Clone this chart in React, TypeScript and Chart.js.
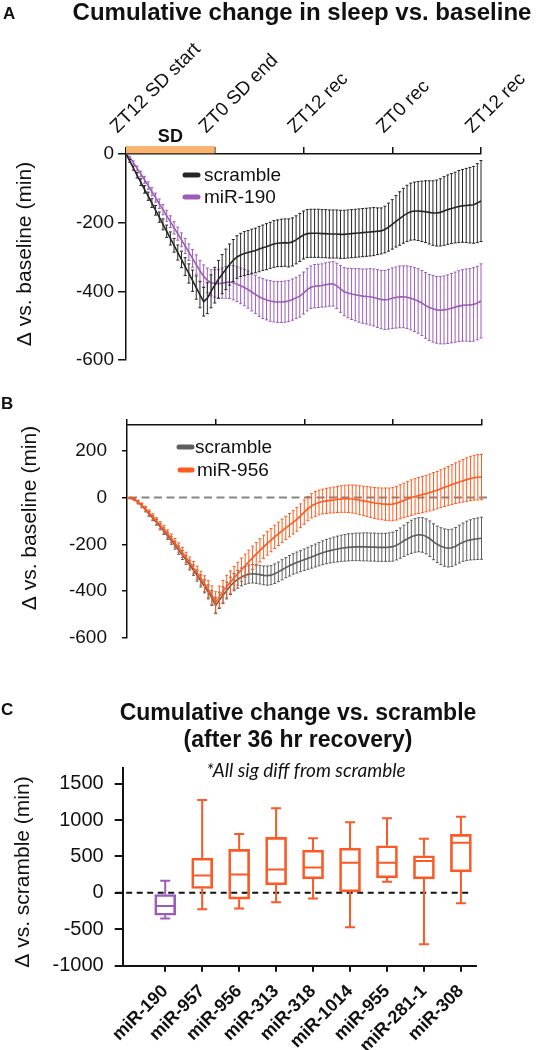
import React, { useEffect, useRef } from 'react';
import { Chart, registerables } from 'chart.js';

Chart.register(...registerables);

const FONT = "Arial, 'Liberation Sans', Helvetica, sans-serif";
Chart.defaults.font.family = FONT;
Chart.defaults.color = '#111';

// ---------------- DATA ----------------
// Panel A / B: x axis tick labels (every 12 h)
const ZT_LABELS = ['ZT12 SD start', 'ZT0 SD end', 'ZT12 rec', 'ZT0 rec', 'ZT12 rec'];
const SD_START = 0;
const SD_END = 12;

// Panel A (30-min bins, 0..48 h)
const A_SCRAMBLE_MEAN = [
  0, -20, -41, -62, -82, -103, -123, -143, -164, -184,
  -205, -225, -246, -266, -287, -307, -328, -348, -369, -389,
  -410, -430, -420, -400, -382, -365, -350, -336, -322, -310,
  -300, -294, -290, -287, -284, -281, -277, -273, -270, -266,
  -262, -260, -259, -258, -259, -256, -250, -243, -236, -232,
  -231, -231, -231, -232, -232, -233, -233, -233, -234, -234,
  -233, -232, -231, -230, -229, -228, -227, -226, -225, -224,
  -220, -213, -205, -196, -188, -180, -173, -168, -166, -166,
  -167, -168, -170, -172, -172, -170, -166, -162, -159, -156,
  -153, -151, -150, -149, -148, -143, -137,
];
const A_SCRAMBLE_ERR = [
  0, 4, 6, 8, 10, 11, 12, 13, 14, 15,
  16, 18, 19, 20, 22, 24, 26, 28, 31, 34,
  38, 42, 45, 48, 52, 55, 57, 59, 60, 61,
  62, 63, 64, 64, 65, 65, 66, 66, 67, 67,
  68, 68, 69, 69, 70, 70, 70, 70, 70, 70,
  70, 70, 70, 70, 70, 70, 70, 70, 70, 70,
  70, 70, 70, 70, 70, 70, 70, 70, 68, 67,
  68, 70, 72, 75, 78, 80, 82, 83, 84, 86,
  88, 90, 92, 94, 96, 98, 100, 101, 102, 103,
  105, 106, 108, 110, 112, 115, 118,
];
const A_MIR190_MEAN = [
  0, -10, -25, -42, -58, -75, -92, -110, -127, -145,
  -162, -180, -197, -215, -232, -250, -268, -286, -304, -322,
  -340, -356, -368, -375, -377, -378, -376, -374, -373, -375,
  -379, -384, -389, -395, -402, -409, -416, -421, -425, -428,
  -430, -431, -431, -430, -428, -424, -419, -414, -405, -395,
  -388, -385, -384, -383, -381, -379, -378, -384, -393, -401,
  -405, -408, -410, -412, -414, -415, -416, -418, -421, -424,
  -425, -423, -420, -418, -416, -416, -417, -420, -424, -428,
  -434, -441, -447, -451, -454, -455, -454, -452, -449, -446,
  -443, -441, -440, -440, -438, -434, -428,
];
const A_MIR190_ERR = [
  0, 3, 5, 7, 8, 10, 11, 12, 13, 14,
  15, 16, 17, 18, 19, 20, 22, 24, 26, 28,
  30, 33, 36, 38, 40, 42, 44, 46, 48, 50,
  51, 52, 53, 54, 55, 56, 57, 58, 58, 59,
  59, 60, 60, 60, 60, 60, 60, 61, 61, 62,
  62, 63, 63, 63, 64, 64, 65, 66, 68, 70,
  72, 74, 76, 78, 79, 80, 82, 83, 84, 85,
  86, 87, 88, 89, 90, 90, 91, 92, 93, 94,
  95, 96, 96, 97, 97, 98, 99, 100, 101, 102,
  103, 104, 105, 106, 107, 107, 108,
];

// Panel B
const B_SCRAMBLE_MEAN = [
  0, -2, -8, -20, -35, -52, -70, -88, -106, -125,
  -144, -164, -184, -204, -225, -246, -267, -289, -311, -334,
  -357, -380, -404, -430, -462, -440, -418, -398, -378, -362,
  -350, -340, -333, -328, -326, -327, -330, -333, -334, -332,
  -326, -318, -309, -300, -292, -284, -278, -272, -266, -260,
  -254, -248, -242, -236, -231, -227, -223, -220, -217, -215,
  -213, -212, -211, -211, -211, -211, -212, -212, -213, -213,
  -213, -212, -210, -204, -195, -185, -176, -168, -162, -159,
  -160, -166, -176, -189, -200, -208, -214, -217, -215, -208,
  -199, -191, -185, -181, -178, -176, -174,
];
const B_SCRAMBLE_ERR = [
  0, 3, 5, 7, 8, 9, 10, 11, 12, 13,
  14, 15, 16, 17, 18, 19, 20, 21, 22, 24,
  26, 28, 30, 32, 35, 35, 36, 36, 37, 37,
  38, 38, 38, 39, 39, 40, 40, 40, 41, 41,
  42, 42, 43, 43, 44, 44, 45, 45, 46, 47,
  48, 49, 50, 51, 52, 53, 54, 55, 56, 57,
  58, 58, 59, 59, 60, 60, 60, 60, 60, 60,
  60, 61, 62, 63, 65, 67, 69, 71, 72, 73,
  74, 75, 76, 77, 78, 79, 80, 80, 80, 80,
  81, 82, 84, 86, 88, 89, 90,
];
const B_MIR956_MEAN = [
  0, -2, -7, -18, -32, -48, -65, -82, -100, -118,
  -136, -155, -174, -194, -214, -235, -256, -278, -300, -322,
  -345, -368, -392, -418, -448, -425, -402, -381, -362, -344,
  -326, -309, -292, -275, -258, -242, -226, -211, -196, -182,
  -168, -155, -142, -130, -118, -106, -93, -78, -62, -47,
  -35, -27, -21, -17, -14, -12, -10, -8, -6, -5,
  -5, -6, -8, -11, -14, -17, -20, -23, -25, -27,
  -28, -29, -28, -24, -18, -12, -6, 0, 5, 9,
  13, 17, 22, 27, 32, 38, 44, 50, 56, 62,
  67, 72, 77, 82, 85, 87, 88,
];
const B_MIR956_ERR = [
  0, 3, 5, 7, 9, 11, 12, 13, 14, 15,
  16, 17, 18, 19, 20, 21, 22, 24, 26, 28,
  30, 33, 36, 40, 45, 46, 47, 48, 48, 49,
  49, 50, 50, 50, 50, 50, 50, 50, 50, 50,
  50, 50, 50, 50, 50, 50, 51, 51, 52, 52,
  52, 53, 53, 53, 54, 54, 55, 56, 57, 58,
  59, 60, 61, 62, 63, 64, 65, 66, 67, 68,
  69, 70, 71, 72, 73, 74, 75, 76, 76, 77,
  78, 78, 79, 80, 80, 81, 82, 83, 85, 87,
  89, 91, 93, 95, 96, 97, 97,
];

// Panel C box plots
const C_CATS = ['miR-190', 'miR-957', 'miR-956', 'miR-313', 'miR-318', 'miR-1014', 'miR-955', 'miR-281-1', 'miR-308'];
const C_MIN = [-352, -224, -215, -128, -77, -472, 151, -706, -142];
const C_Q1 = [-307, 60, -87, 110, 193, 14, 206, 193, 289];
const C_MEDIAN = [-179, 239, 253, 322, 349, 413, 413, 436, 688];
const C_Q3 = [-22, 477, 597, 762, 587, 615, 647, 509, 803];
const C_MAX = [165, 1275, 807, 1161, 748, 968, 1023, 743, 1045];
const C_Y_TICKS = [-1000, -500, 0, 500, 1000, 1500];

// ---------------- STYLES ----------------
const INK = '#111111';
const BLACK_A = '#262626';
const GRAY_B = '#5e5e5e';
const PURPLE = '#9b5db8';
const ORANGE = '#ff5b1f';
const ORANGE_C = '#f95a26';
const SD_COLOR = '#f9b46f';
const BOX_COLORS = C_CATS.map((c) => (c === 'miR-190' ? PURPLE : ORANGE_C));

const HOURS = A_SCRAMBLE_MEAN.map((_, i) => i * 0.5);
const pts = (vals: number[]) => vals.map((v, i) => ({ x: HOURS[i], y: v }));

// ---------------- HELPERS ----------------
function drawText(ctx: any, str: string, x: number, y: number, font: string, align = 'left', baseline = 'alphabetic') {
  ctx.save();
  ctx.fillStyle = INK;
  ctx.font = font;
  ctx.textAlign = align;
  ctx.textBaseline = baseline;
  ctx.fillText(str, x, y);
  ctx.restore();
}
function drawVText(ctx: any, str: string, cx: number, cy: number, font: string) {
  ctx.save();
  ctx.translate(cx, cy);
  ctx.rotate(-Math.PI / 2);
  ctx.fillStyle = INK;
  ctx.font = font;
  ctx.textAlign = 'center';
  ctx.textBaseline = 'middle';
  ctx.fillText(str, 0, 0);
  ctx.restore();
}
function legendRow(ctx: any, x0: number, x1: number, y: number, color: string, label: string, tx: number) {
  ctx.save();
  ctx.strokeStyle = color;
  ctx.lineWidth = 5;
  ctx.lineCap = 'round';
  ctx.beginPath();
  ctx.moveTo(x0, y);
  ctx.lineTo(x1, y);
  ctx.stroke();
  ctx.restore();
  drawText(ctx, label, tx, y + 1, `19px ${FONT}`, 'left', 'middle');
}

const errorBarPlugin = {
  id: 'errorBars',
  beforeDatasetDraw(chart: any, args: any) {
    const ds = chart.data.datasets[args.index];
    if (!ds.errors) return;
    const xs = chart.scales.x;
    const ys = chart.scales.y;
    const ctx = chart.ctx;
    ctx.save();
    ctx.strokeStyle = ds.borderColor;
    ctx.lineWidth = 1;
    ds.data.forEach((p: any, i: number) => {
      const e = ds.errors[i];
      if (!e) return;
      const px = xs.getPixelForValue(p.x);
      const yt = ys.getPixelForValue(p.y + e);
      const yb = ys.getPixelForValue(p.y - e);
      ctx.beginPath();
      ctx.moveTo(px, yt);
      ctx.lineTo(px, yb);
      ctx.moveTo(px - 1.5, yt);
      ctx.lineTo(px + 1.5, yt);
      ctx.moveTo(px - 1.5, yb);
      ctx.lineTo(px + 1.5, yb);
      ctx.stroke();
    });
    ctx.restore();
  },
};

const zeroPad = (s: any) => {
  s.paddingLeft = 0;
  s.paddingRight = 0;
  s.paddingTop = 0;
  s.paddingBottom = 0;
};

const lineDs = (label: string, mean: number[], err: number[], color: string) => ({
  label,
  data: pts(mean),
  errors: err,
  borderColor: color,
  backgroundColor: color,
  borderWidth: 1.6,
  pointRadius: 0,
  tension: 0,
  clip: false,
});

// ---------------- PANEL A ----------------
function makeA(): any {
  const deco = {
    id: 'decoA',
    afterDraw(chart: any) {
      const ctx = chart.ctx;
      const xs = chart.scales.x;
      const top = chart.chartArea.top;
      const x0 = xs.getPixelForValue(SD_START);
      const x1 = xs.getPixelForValue(SD_END);
      ctx.save();
      ctx.fillStyle = SD_COLOR;
      ctx.fillRect(x0, top - 8, x1 - x0, 7.3);
      ctx.restore();
      drawText(ctx, 'SD', (x0 + x1) / 2, 141.5, `bold 18px ${FONT}`, 'center');
      drawText(ctx, 'A', 3, 18.5, `bold 17px ${FONT}`);
      drawText(ctx, 'Cumulative change in sleep vs. baseline', 302, 20, `bold 24px ${FONT}`, 'center');
      legendRow(ctx, 185, 198, 175, BLACK_A, 'scramble', 204);
      legendRow(ctx, 185, 198, 197, PURPLE, 'miR-190', 204);
      drawVText(ctx, 'Δ vs. baseline (min)', 25, 254, `21px ${FONT}`);
    },
  };
  return {
    type: 'line',
    data: {
      datasets: [
        lineDs('scramble', A_SCRAMBLE_MEAN, A_SCRAMBLE_ERR, BLACK_A),
        lineDs('miR-190', A_MIR190_MEAN, A_MIR190_ERR, PURPLE),
      ],
    },
    options: {
      responsive: false,
      animation: false,
      devicePixelRatio: 1,
      layout: { padding: { left: 0, top: 0, right: 58, bottom: 20 } },
      plugins: { legend: { display: false }, tooltip: { enabled: false } },
      scales: {
        x: {
          type: 'linear',
          position: 'top',
          min: 0,
          max: 48,
          ticks: {
            stepSize: 12,
            autoSkip: false,
            minRotation: 45,
            maxRotation: 45,
            padding: 9,
            labelOffset: 4,
            font: { size: 19 },
            color: INK,
            callback: (v: any) => ZT_LABELS[Math.round(Number(v) / 12)],
          },
          grid: { drawOnChartArea: false, tickLength: 7, color: INK, lineWidth: 1.5 },
          border: { color: INK, width: 1.5 },
          afterFit: (s: any) => {
            s.height = 154;
            zeroPad(s);
          },
        },
        y: {
          min: -600,
          max: 0,
          ticks: { stepSize: 200, includeBounds: false, padding: 4, font: { size: 19 }, color: INK, callback: (v: any) => String(v) },
          grid: { drawOnChartArea: false, tickLength: 8, color: INK, lineWidth: 1.5 },
          border: { color: INK, width: 1.5 },
          afterFit: (s: any) => {
            s.width = 126;
            zeroPad(s);
          },
        },
      },
    },
    plugins: [errorBarPlugin, deco],
  };
}

// ---------------- PANEL B ----------------
function makeB(): any {
  const deco = {
    id: 'decoB',
    beforeDatasetsDraw(chart: any) {
      const ctx = chart.ctx;
      const ys = chart.scales.y;
      const y0 = ys.getPixelForValue(0);
      ctx.save();
      ctx.strokeStyle = '#858585';
      ctx.lineWidth = 2;
      ctx.setLineDash([8, 4.5]);
      ctx.beginPath();
      ctx.moveTo(chart.chartArea.left + 2, y0);
      ctx.lineTo(chart.chartArea.right + 6, y0);
      ctx.stroke();
      ctx.restore();
    },
    afterDraw(chart: any) {
      const ctx = chart.ctx;
      drawText(ctx, 'B', 1, 28.5, `bold 17px ${FONT}`);
      legendRow(ctx, 179, 192, 67, GRAY_B, 'scramble', 195);
      legendRow(ctx, 180, 192, 90, ORANGE, 'miR-956', 197);
      drawVText(ctx, 'Δ vs. baseline (min)', 30, 138, `21px ${FONT}`);
    },
  };
  return {
    type: 'line',
    data: {
      datasets: [
        lineDs('miR-956', B_MIR956_MEAN, B_MIR956_ERR, ORANGE),
        lineDs('scramble', B_SCRAMBLE_MEAN, B_SCRAMBLE_ERR, GRAY_B),
      ],
    },
    options: {
      responsive: false,
      animation: false,
      devicePixelRatio: 1,
      layout: { padding: { left: 0, top: 0, right: 57.5, bottom: 22.3 } },
      plugins: { legend: { display: false }, tooltip: { enabled: false } },
      scales: {
        x: {
          type: 'linear',
          position: 'top',
          min: 0,
          max: 48,
          ticks: { stepSize: 12, display: false },
          grid: { drawOnChartArea: false, tickLength: 6, color: INK, lineWidth: 1.5 },
          border: { color: INK, width: 1.5 },
          afterFit: (s: any) => {
            s.height = 45;
            zeroPad(s);
          },
        },
        y: {
          min: -600,
          max: 311,
          ticks: { stepSize: 200, includeBounds: false, padding: 15, font: { size: 19 }, color: INK, callback: (v: any) => String(v) },
          grid: { drawOnChartArea: false, tickLength: 5, color: INK, lineWidth: 1.5 },
          border: { color: INK, width: 1.5 },
          afterFit: (s: any) => {
            s.width = 127;
            zeroPad(s);
          },
        },
      },
    },
    plugins: [errorBarPlugin, deco],
  };
}

// ---------------- PANEL C ----------------
function makeC(): any {
  const deco = {
    id: 'decoC',
    beforeDatasetsDraw(chart: any) {
      const ctx = chart.ctx;
      const ys = chart.scales.y;
      const y0 = ys.getPixelForValue(0);
      ctx.save();
      ctx.strokeStyle = INK;
      ctx.lineWidth = 2;
      ctx.setLineDash([6, 4.5]);
      ctx.beginPath();
      ctx.moveTo(chart.chartArea.left - 7, y0);
      ctx.lineTo(chart.chartArea.right - 6, y0);
      ctx.stroke();
      ctx.restore();
    },
    afterDatasetsDraw(chart: any) {
      const ctx = chart.ctx;
      const xs = chart.scales.x;
      const ys = chart.scales.y;
      ctx.save();
      ctx.lineWidth = 2;
      C_CATS.forEach((_, i) => {
        const px = xs.getPixelForValue(i);
        ctx.strokeStyle = BOX_COLORS[i];
        const yMin = ys.getPixelForValue(C_MIN[i]);
        const yQ1 = ys.getPixelForValue(C_Q1[i]);
        const yMed = ys.getPixelForValue(C_MEDIAN[i]);
        const yQ3 = ys.getPixelForValue(C_Q3[i]);
        const yMax = ys.getPixelForValue(C_MAX[i]);
        ctx.beginPath();
        ctx.moveTo(px, yQ3);
        ctx.lineTo(px, yMax);
        ctx.moveTo(px - 5, yMax);
        ctx.lineTo(px + 5, yMax);
        ctx.moveTo(px, yQ1);
        ctx.lineTo(px, yMin);
        ctx.moveTo(px - 5, yMin);
        ctx.lineTo(px + 5, yMin);
        ctx.moveTo(px - 10, yMed);
        ctx.lineTo(px + 10, yMed);
        ctx.stroke();
      });
      ctx.restore();
    },
    afterDraw(chart: any) {
      const ctx = chart.ctx;
      drawText(ctx, 'C', 1, 55, `bold 17px ${FONT}`);
      drawText(ctx, 'Cumulative change vs. scramble', 298, 60, `bold 23px ${FONT}`, 'center');
      drawText(ctx, '(after 36 hr recovery)', 298, 87, `bold 23px ${FONT}`, 'center');
      drawText(ctx, '*All sig diff from scramble', 306, 117, `italic 19px Lato, ${FONT}`, 'center');
      drawVText(ctx, 'Δ vs. scramble (min)', 23, 212, `21px ${FONT}`);
    },
  };
  return {
    type: 'bar',
    data: {
      datasets: [
        {
          label: 'box',
          data: C_CATS.map((_, i) => ({ x: i, y: [C_Q1[i], C_Q3[i]] })),
          backgroundColor: 'rgba(0,0,0,0)',
          borderColor: BOX_COLORS,
          borderWidth: 2,
          borderSkipped: false,
          barThickness: 21,
        },
      ],
    },
    options: {
      responsive: false,
      animation: false,
      devicePixelRatio: 1,
      layout: { padding: { left: 0, top: 108.3, right: 63.3, bottom: 0 } },
      plugins: { legend: { display: false }, tooltip: { enabled: false } },
      scales: {
        x: {
          type: 'linear',
          position: 'bottom',
          min: -1.15,
          max: 8.4,
          offset: false,
          afterBuildTicks: (s: any) => {
            s.ticks = C_CATS.map((_, i) => ({ value: i }));
          },
          ticks: {
            autoSkip: false,
            minRotation: 45,
            maxRotation: 45,
            padding: 9,
            font: { size: 18, weight: 'bold' },
            color: INK,
            callback: (v: any) => C_CATS[Math.round(Number(v))],
          },
          grid: { drawOnChartArea: false, offset: false, tickLength: 6, color: INK, lineWidth: 2 },
          border: { color: INK, width: 2 },
          afterFit: (s: any) => {
            s.height = 84.3;
            zeroPad(s);
          },
        },
        y: {
          min: -1000,
          max: 1710,
          afterBuildTicks: (s: any) => {
            s.ticks = C_Y_TICKS.map((v) => ({ value: v }));
          },
          ticks: { autoSkip: false, padding: 11, font: { size: 20 }, color: INK, callback: (v: any) => String(v) },
          grid: { drawOnChartArea: false, tickLength: 8, color: INK, lineWidth: 2 },
          border: { color: INK, width: 2 },
          afterFit: (s: any) => {
            s.width = 122.7;
            zeroPad(s);
          },
        },
      },
    },
    plugins: [deco],
  };
}

// ---------------- COMPONENTS ----------------
function Panel({ top, height, make }: { top: number; height: number; make: () => any }) {
  const ref = useRef<HTMLCanvasElement>(null);
  useEffect(() => {
    const chart = new Chart(ref.current as HTMLCanvasElement, make());
    return () => chart.destroy();
  }, []);
  return (
    <canvas
      ref={ref}
      width={539}
      height={height}
      style={{ position: 'absolute', left: 0, top, width: 539, height, display: 'block' }}
    />
  );
}

export default function App() {
  return (
    <div style={{ position: 'absolute', left: 0, top: 0, width: 539, height: 1050, background: '#fff', overflow: 'hidden' }}>
      <Panel top={0} height={380} make={makeA} />
      <Panel top={380} height={280} make={makeB} />
      <Panel top={660} height={390} make={makeC} />
    </div>
  );
}
